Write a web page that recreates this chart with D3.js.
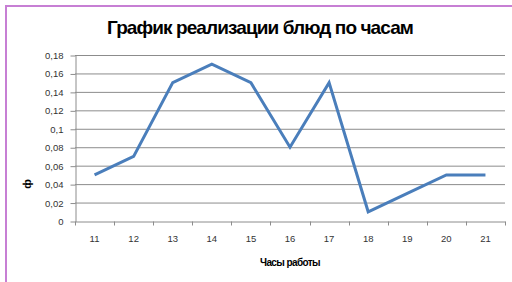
<!DOCTYPE html>
<html>
<head>
<meta charset="utf-8">
<script src="https://cdn.jsdelivr.net/npm/d3@7"></script>
<style>
  html, body { margin: 0; padding: 0; background: #fff; }
  svg { display: block; font-family: "Liberation Sans", Arial, sans-serif; }
</style>
</head>
<body>
<script>
const hours = ["11", "12", "13", "14", "15", "16", "17", "18", "19", "20", "21"];
const shares = [0.05, 0.07, 0.15, 0.17, 0.15, 0.08, 0.15, 0.01, 0.03, 0.05, 0.05];
const yTicks = [0, 0.02, 0.04, 0.06, 0.08, 0.1, 0.12, 0.14, 0.16, 0.18];

const width = 512;
const height = 282;
const margin = { top: 55, right: 7, bottom: 61, left: 75 };

const svg = d3.select("body")
  .append("svg")
  .attr("width", width)
  .attr("height", height);

// frame (only left and top edges visible)
svg.append("path")
  .attr("d", `M6,${height} V6 H${width}`)
  .attr("fill", "none")
  .attr("stroke", "#c77fd4")
  .attr("stroke-width", 2);

// title
svg.append("text")
  .attr("x", 260)
  .attr("y", 34)
  .attr("text-anchor", "middle")
  .attr("font-size", "19px")
  .attr("font-weight", "bold")
  .attr("letter-spacing", "-0.9px")
  .attr("fill", "#000")
  .text("График реализации блюд по часам");

const x = d3.scaleBand()
  .domain(hours)
  .range([margin.left, width - margin.right]);

const y = d3.scaleLinear()
  .domain([0, 0.18])
  .range([height - margin.bottom, margin.top]);

const fmt = (d) => String(d).replace(".", ",");

// gridlines
svg.append("g")
  .selectAll("line")
  .data(yTicks.filter((d) => d > 0))
  .join("line")
  .attr("x1", margin.left)
  .attr("x2", width - margin.right)
  .attr("y1", (d) => y(d) + 0.5)
  .attr("y2", (d) => y(d) + 0.5)
  .attr("stroke", "#8c8c8c")
  .attr("stroke-width", 1);

// y axis
const yAxis = svg.append("g")
  .attr("transform", `translate(${margin.left + 0.5},0.5)`)
  .call(d3.axisLeft(y).tickValues(yTicks).tickFormat(fmt).tickSize(5).tickSizeOuter(0).tickPadding(7));
yAxis.select(".domain").attr("stroke", "#8c8c8c");
yAxis.selectAll(".tick line").attr("stroke", "#8c8c8c");
yAxis.selectAll(".tick text")
  .attr("font-size", "9.5px")
  .attr("font-family", "Liberation Sans, Arial, sans-serif")
  .attr("fill", "#333");

// x axis, ticks at category boundaries
const xAxis = svg.append("g")
  .attr("transform", `translate(0,${height - margin.bottom + 0.5})`)
  .call(d3.axisBottom(x).tickSize(0).tickPadding(14));
xAxis.select(".domain").attr("stroke", "#8c8c8c");
xAxis.selectAll(".tick text")
  .attr("font-size", "9.5px")
  .attr("font-family", "Liberation Sans, Arial, sans-serif")
  .attr("fill", "#333");
xAxis.selectAll(".boundary")
  .data(hours.concat(["end"]))
  .join("line")
  .attr("class", "boundary")
  .attr("x1", (d, i) => Math.round(margin.left + i * x.bandwidth()) + 0.5)
  .attr("x2", (d, i) => Math.round(margin.left + i * x.bandwidth()) + 0.5)
  .attr("y1", 0)
  .attr("y2", 4)
  .attr("stroke", "#8c8c8c");

// line
const line = d3.line()
  .x((d, i) => x(hours[i]) + x.bandwidth() / 2)
  .y((d) => y(d));

svg.append("path")
  .datum(shares)
  .attr("d", line)
  .attr("fill", "none")
  .attr("stroke", "#4a7ebb")
  .attr("stroke-width", 3)
  .attr("stroke-linejoin", "miter");

// axis titles
svg.append("text")
  .attr("x", (margin.left + width - margin.right) / 2)
  .attr("y", 266)
  .attr("text-anchor", "middle")
  .attr("font-size", "10px")
  .attr("font-weight", "bold")
  .attr("letter-spacing", "-0.6px")
  .text("Часы работы");

svg.append("text")
  .attr("transform", "translate(31,184) rotate(-90)")
  .attr("text-anchor", "middle")
  .attr("font-size", "11px")
  .attr("font-weight", "bold")
  .text("ф");
</script>
</body>
</html>
